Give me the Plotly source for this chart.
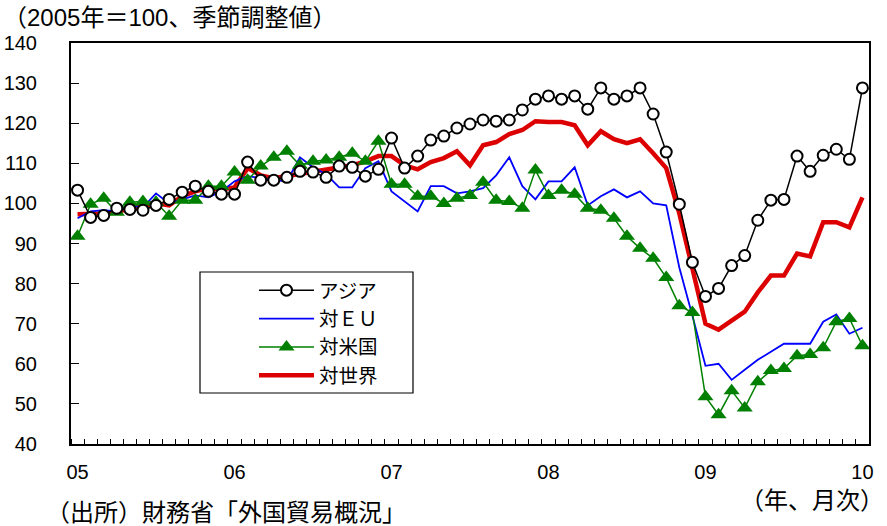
import plotly.graph_objects as go

months = list(range(61))  # 2005/01 .. 2010/01
year_ticks = [0, 12, 24, 36, 48, 60]
year_labels = ["05", "06", "07", "08", "09", "10"]

asia = [103.3, 96.5, 97, 98.8, 98.5, 98.3, 99.5, 101, 102.8, 104.3, 103, 102.3,
        102.3, 110.3, 105.8, 105.8, 106.5, 108, 107.8, 106.5, 109.3, 109, 106.8, 108.5,
        116.3, 108.8, 111.8, 115.8, 116.8, 118.8, 119.8, 120.8, 120.5, 120.8, 123.3, 126,
        126.8, 126, 126.8, 123.5, 128.8, 126, 126.8, 128.8, 122.3, 112.8, 99.8, 85.3,
        76.8, 78.8, 84.5, 87, 95.8, 100.8, 101, 111.8, 108, 112, 113.5, 111,
        128.8]
eu = [96.3, 98, 98.3, 98, 99.5, 99, 102.5, 100, 101, 102, 101.5, 103,
      105.5, 106.8, 106.3, 105.8, 105.5, 111.5, 109, 107.3, 104, 104, 108.8, 110.5,
      103, 100.5, 98, 104.3, 104.3, 102.5, 103, 103.8, 107, 111.5, 104.3, 101,
      105.5, 105.5, 109, 99.5, 101.8, 103.5, 101.5, 103, 100, 99.5, 84, 72,
      59.5, 60, 56, 58.5, 61, 63, 65, 65, 65, 70.5, 72.3, 67.5,
      69]
usa = [91.8, 99.8, 101.3, 97.8, 100.3, 100.5, 100.3, 96.8, 100.8, 100.8, 104.3, 104.3,
       107.8, 105.8, 109.3, 111.5, 113, 109.5, 110.5, 110.8, 111.5, 112.5, 110.5, 115.5,
       104.8, 104.8, 101.8, 101.8, 100, 101.3, 102, 105.3, 100.8, 100.5, 98.8, 108.3,
       102, 103.3, 102.3, 98.8, 98.3, 96.3, 91.8, 88.8, 86.3, 81.5, 74.5, 72.8,
       51.8, 47.3, 53.3, 49, 55.5, 58.3, 58.8, 62, 62.3, 64, 70.5, 71.3,
       64.5]
world = [97.3, 97.3, 97.5, 97.8, 98.8, 99.3, 100, 99.5, 101.8, 103, 103.8, 103.5,
         104, 108.8, 107, 106.3, 106.8, 107.5, 108, 108.3, 109, 109.5, 110.5, 111.8,
         111.8, 109.5, 108.5, 110.3, 111.3, 113, 109.5, 114.5, 115.3, 117.3, 118.3, 120.5,
         120.3, 120.3, 119.5, 114.5, 118, 116, 115, 116, 112.5, 108.8, 97.5, 84,
         70, 68.5, 70.8, 73, 77.8, 82, 82, 87.5, 86.8, 95.3, 95.3, 94,
         101.5]

names = ["アジア", "対ＥＵ", "対米国", "対世界"]

LAT = "Liberation Sans, Arial, Noto Sans CJK JP, sans-serif"
JP = "Noto Sans CJK JP, sans-serif"

fig = go.Figure()
fig.add_trace(go.Scatter(x=months, y=world, name=names[3], mode="lines",
                         line=dict(color="#dd0000", width=4.5), legendrank=4))
fig.add_trace(go.Scatter(x=months, y=eu, name=names[1], mode="lines",
                         line=dict(color="#0000ff", width=1.8), legendrank=2))
fig.add_trace(go.Scatter(x=months, y=usa, name=names[2], mode="lines+markers",
                         line=dict(color="#008000", width=1.5),
                         marker=dict(symbol="triangle-up", size=14, color="#008000"),
                         legendrank=3))
fig.add_trace(go.Scatter(x=months, y=asia, name=names[0], mode="lines+markers",
                         line=dict(color="#000000", width=1.5),
                         marker=dict(symbol="circle", size=11, color="white",
                                     line=dict(color="black", width=2)),
                         legendrank=1))

L, R, T, B = 71, 18, 43, 82
PW = 887 - L - R
PH = 526 - T - B

def px(xp):
    return (xp - L) / PW

def py(yp):
    return (526 - B - yp) / PH

fig.add_shape(type="rect", xref="paper", yref="paper",
              x0=px(200), x1=px(413), y0=py(393), y1=py(272),
              line=dict(color="black", width=1.2), fillcolor="white", layer="below")

fig.update_layout(
    width=887, height=526,
    margin=dict(l=L, r=R, t=T, b=B, autoexpand=False),
    paper_bgcolor="white", plot_bgcolor="white",
    showlegend=True,
    legend=dict(x=px(254), y=py(271), xanchor="left", yanchor="top",
                bgcolor="rgba(0,0,0,0)", borderwidth=0,
                font=dict(family=JP, size=19.5, color="black"),
                itemwidth=55, tracegroupgap=0),
    title=dict(text="（2005年＝100、季節調整値）", xref="container", yref="container",
               x=3 / 887, xanchor="left", y=1 - 18 / 526, yanchor="middle",
               font=dict(family=LAT, size=24, color="black")),
    xaxis=dict(range=[-0.5, 60.5], tickmode="array", tickvals=year_ticks,
               ticktext=year_labels, ticks="", showgrid=False, zeroline=False,
               showline=True, linecolor="black", linewidth=2, mirror=True,
               automargin=False,
               tickfont=dict(family=LAT, size=20, color="black"),
               ticklabelstandoff=9,
               minor=dict(tick0=-0.5, dtick=1, ticks="inside", ticklen=5,
                          tickcolor="black", tickwidth=1, showgrid=False)),
    yaxis=dict(range=[40, 140], dtick=10, ticks="inside", ticklen=8,
               tickcolor="black", tickwidth=1, showgrid=False, zeroline=False,
               showline=True, linecolor="black", linewidth=2, mirror=True,
               automargin=False,
               tickfont=dict(family=LAT, size=20, color="black"),
               ticklabelstandoff=28),
    annotations=[
        dict(text="（出所）財務省「外国貿易概況」", xref="paper", yref="paper",
             x=px(44), y=py(512), xanchor="left", yanchor="middle", showarrow=False,
             font=dict(family=LAT, size=24, color="black")),
        dict(text="（年、月次）", xref="paper", yref="paper",
             x=px(886), y=py(500), xanchor="right", yanchor="middle", showarrow=False,
             font=dict(family=LAT, size=24, color="black")),
    ],
)

fig.write_html("out.html", config={"displayModeBar": False},
               post_script="document.body.style.margin='0px';document.body.style.padding='0px';")
